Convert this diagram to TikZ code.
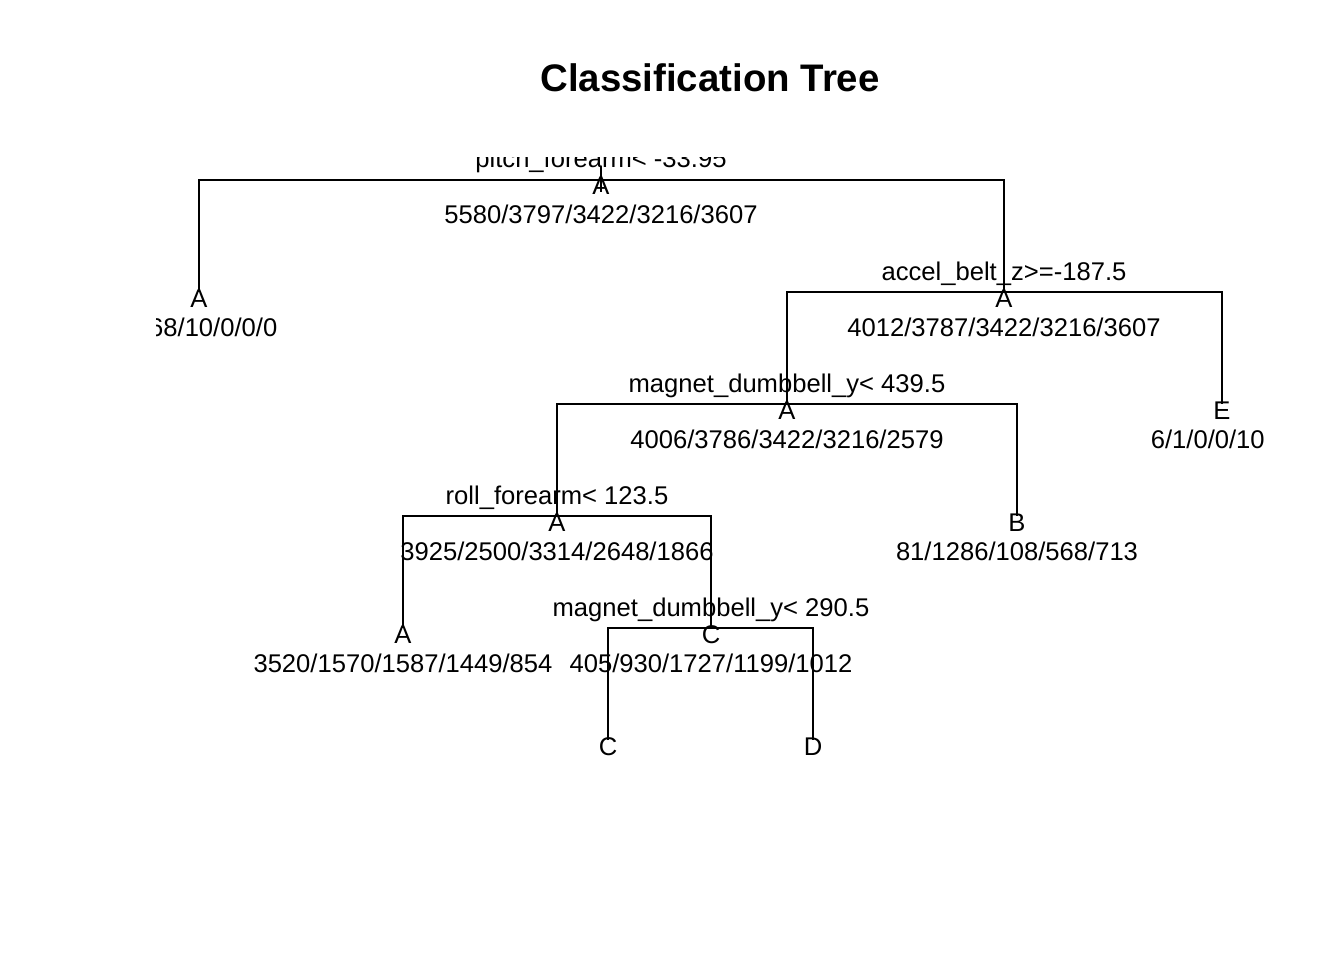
\documentclass[tikz,border=0pt]{standalone}
\usepackage{fontspec}
\setmainfont{Liberation Sans}
\begin{document}
\begin{tikzpicture}[x=1pt,y=-1pt,
  br/.style={line width=2.2pt, line cap=butt, line join=miter},
  txt/.style={inner sep=0pt, anchor=base, font=\fontsize{25.6}{28}\selectfont},
  ttl/.style={inner sep=0pt, anchor=base, font=\fontsize{38.4}{42}\selectfont\bfseries}]
\useasboundingbox[fill=white] (0,0) rectangle (1344,960);
\node[ttl] (title) at (710,92) {Classification Tree};
\begin{scope}
\clip (156.5,157.5) rectangle (1263.5,764);
% node coordinates
\coordinate (n1) at (601,180);
\coordinate (n2) at (199,292);
\coordinate (n3) at (1004,292);
\coordinate (n6) at (787,404);
\coordinate (n7) at (1222,404);
\coordinate (n12) at (557,516);
\coordinate (n13) at (1017,516);
\coordinate (n24) at (403,628);
\coordinate (n25) at (711,628);
\coordinate (n50) at (608,740);
\coordinate (n51) at (813,740);
\coordinate (rootstub) at (601,167);
\coordinate (rootlow) at (601,192);
% branches
\draw[br] (rootstub) -- (rootlow);
\draw[br] (n2) -- (n2 |- n1) -- (n3 |- n1) -- (n3);
\draw[br] (n6) -- (n6 |- n3) -- (n7 |- n3) -- (n7);
\draw[br] (n12) -- (n12 |- n6) -- (n13 |- n6) -- (n13);
\draw[br] (n24) -- (n24 |- n12) -- (n25 |- n12) -- (n25);
\draw[br] (n50) -- (n50 |- n25) -- (n51 |- n25) -- (n51);
% split labels
\node[txt] (s1) at ([yshift=12pt]n1) {pitch\_forearm< -33.95};
\node[txt] (s3) at ([yshift=12pt]n3) {accel\_belt\_z>=-187.5};
\node[txt] (s6) at ([yshift=12pt]n6) {magnet\_dumbbell\_y< 439.5};
\node[txt] (s12) at ([yshift=12pt]n12) {roll\_forearm< 123.5};
\node[txt] (s25) at ([yshift=12pt]n25) {magnet\_dumbbell\_y< 290.5};
% class letters
\node[txt] (c1) at ([yshift=-15pt]n1) {A};
\node[txt] (c2) at ([yshift=-15pt]n2) {A};
\node[txt] (c3) at ([yshift=-15pt]n3) {A};
\node[txt] (c6) at ([yshift=-15pt]n6) {A};
\node[txt] (c7) at ([yshift=-15pt]n7) {E};
\node[txt] (c12) at ([yshift=-15pt]n12) {A};
\node[txt] (c13) at ([yshift=-15pt]n13) {B};
\node[txt] (c24) at ([yshift=-15pt]n24) {A};
\node[txt] (c25) at ([yshift=-15pt]n25) {C};
\node[txt] (c50) at ([yshift=-15pt]n50) {C};
\node[txt] (c51) at ([yshift=-15pt]n51) {D};
% counts
\node[txt] (k1) at ([yshift=-44pt]n1) {5580/3797/3422/3216/3607};
\node[txt] (k2) at ([yshift=-44pt]n2) {1568/10/0/0/0};
\node[txt] (k3) at ([yshift=-44pt]n3) {4012/3787/3422/3216/3607};
\node[txt] (k6) at ([yshift=-44pt]n6) {4006/3786/3422/3216/2579};
\node[txt] (k7) at ([yshift=-44pt]n7) {6/1/0/0/1028};
\node[txt] (k12) at ([yshift=-44pt]n12) {3925/2500/3314/2648/1866};
\node[txt] (k13) at ([yshift=-44pt]n13) {81/1286/108/568/713};
\node[txt] (k24) at ([yshift=-44pt]n24) {3520/1570/1587/1449/854};
\node[txt] (k25) at ([yshift=-44pt]n25) {405/930/1727/1199/1012};
\end{scope}
\end{tikzpicture}
\end{document}
